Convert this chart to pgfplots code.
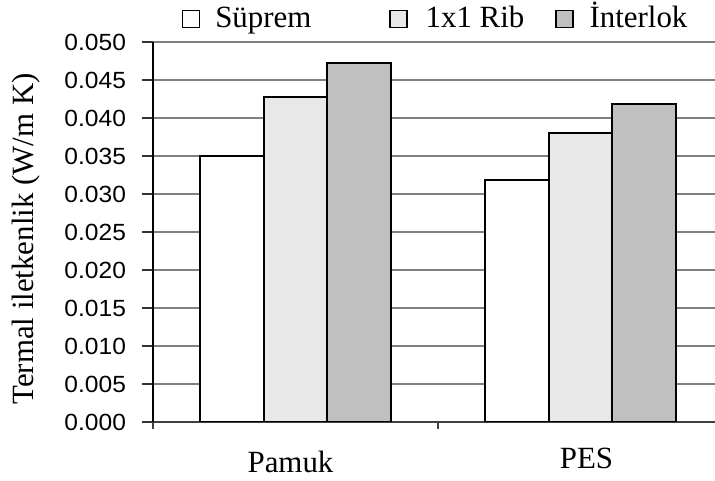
\documentclass[border=0pt]{standalone}
\usepackage{fontspec}
\setmainfont{Liberation Serif}
\newfontfamily\ticksans[FakeStretch=1.05]{Liberation Sans}
\usepackage{pgfplots}
\pgfplotsset{compat=1.18}

\definecolor{ribgray}{HTML}{E8E8E8}
\definecolor{intgray}{HTML}{C0C0C0}
\definecolor{gridgray}{HTML}{808080}

% Thermal conductivity (W/m K) of knitted fabrics
\pgfplotstableread{
idx  suprem  rib     interlok
0    0.0350  0.0428  0.0473
1    0.0318  0.0380  0.0419
}\conductivity

\begin{document}
\begin{tikzpicture}
\begin{axis}[
  at={(153bp,59bp)}, anchor=south west,
  scale only axis, width=562bp, height=380bp,
  ybar=0pt, bar width=63.5bp,
  xmin=-0.5, xmax=1.472,
  ymin=0, ymax=0.05,
  ytick={0,0.005,0.010,0.015,0.020,0.025,0.030,0.035,0.040,0.045,0.050},
  scaled y ticks=false,
  yticklabel style={
    font=\ticksans\fontsize{23.5}{25}\selectfont, xshift=-13bp,
    /pgf/number format/.cd, fixed, fixed zerofill, precision=3,
    assume math mode=true},
  xtick={0,1},
  xticklabels={Pamuk\hspace*{10bp}, \hspace*{12bp}\raisebox{4bp}{PES}},
  xticklabel style={font=\fontsize{31}{34}\selectfont, anchor=base, yshift=-40bp},
  x tick style={draw=none},
  extra x ticks={-0.5,0.5,1.5},
  extra x tick labels={},
  extra x tick style={
    major tick length=7bp,
    x tick style={draw=black!75, line width=1.3bp}},
  tick align=outside,
  major tick length=10.5bp,
  y tick style={draw=black!80, line width=1.3bp},
  axis x line*=bottom,
  axis y line*=left,
  x axis line style={draw=black!75, line width=1.5bp},
  y axis line style={draw=black, line width=1.5bp},
  ymajorgrids,
  grid style={draw=gridgray, line width=1.5bp},
  ylabel={Termal iletkenlik (W/m K)},
  ylabel style={font=\fontsize{31}{34}\selectfont, anchor=base,
    at={(axis description cs:-0.2135,0.4816)}},
  legend columns=3,
  legend style={draw=none, fill=none, inner sep=0pt, outer sep=0pt,
    at={(axis description cs:0.0516,1.069)}, anchor=west,
    font=\fontsize{31}{34}\selectfont,
    nodes={inner sep=0pt, anchor=base west},
    /tikz/column sep=0pt},
  legend image code/.code={
    \draw[#1, line width=1.3bp] (0bp,0.3bp) rectangle (17bp,17.5bp);},
]
\addplot[fill=white, draw=black, line width=2bp] table[x=idx, y=suprem] {\conductivity};
\addplot[fill=ribgray, draw=black, line width=2bp] table[x=idx, y=rib] {\conductivity};
\addplot[fill=intgray, draw=black, line width=2bp] table[x=idx, y=interlok] {\conductivity};
\addlegendentry{\hspace*{15bp}Süprem\hspace*{78bp}}
\addlegendentry{\hspace*{18bp}1x1 Rib\hspace*{31bp}}
\addlegendentry{\hspace*{16bp}İnterlok}
\end{axis}
\pgfresetboundingbox
\useasboundingbox (0,0) rectangle (715bp,481bp);
\end{tikzpicture}
\end{document}
